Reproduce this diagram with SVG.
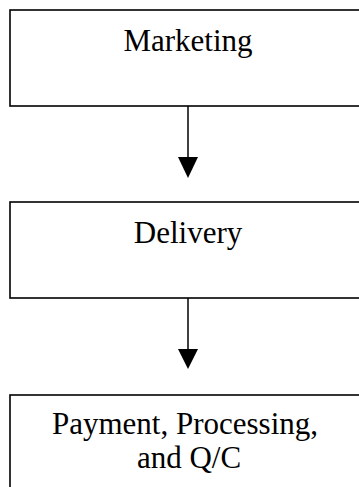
<svg xmlns="http://www.w3.org/2000/svg" width="359" height="487" viewBox="0 0 359 487">
<style>
.box{fill:#fff;stroke:#000;stroke-width:1.6}
.lbl{font-family:"Liberation Serif","Times New Roman",serif;font-size:31px;fill:#000;text-anchor:middle}
.con{stroke:#000;stroke-width:1.5;fill:none}
.head{fill:#000}
</style>
<rect width="359" height="487" fill="#fff"/>
<g id="marketing">
<rect class="box" x="10" y="10" width="380" height="96"/>
<text class="lbl" x="188" y="51">Marketing</text>
</g>
<g id="delivery">
<rect class="box" x="10" y="202" width="380" height="96"/>
<text class="lbl" x="188" y="243">Delivery</text>
</g>
<g id="payment">
<rect class="box" x="10" y="395" width="380" height="120"/>
<text class="lbl" x="185" y="434">Payment, Processing,</text>
<text class="lbl" x="189" y="468">and Q/C</text>
</g>
<g id="connectors">
<line class="con" x1="188" y1="106" x2="188" y2="158"/>
<polygon class="head" points="178,157 198,157 188,178"/>
<line class="con" x1="188" y1="298" x2="188" y2="350"/>
<polygon class="head" points="178,349 198,349 188,369"/>
</g>
</svg>
